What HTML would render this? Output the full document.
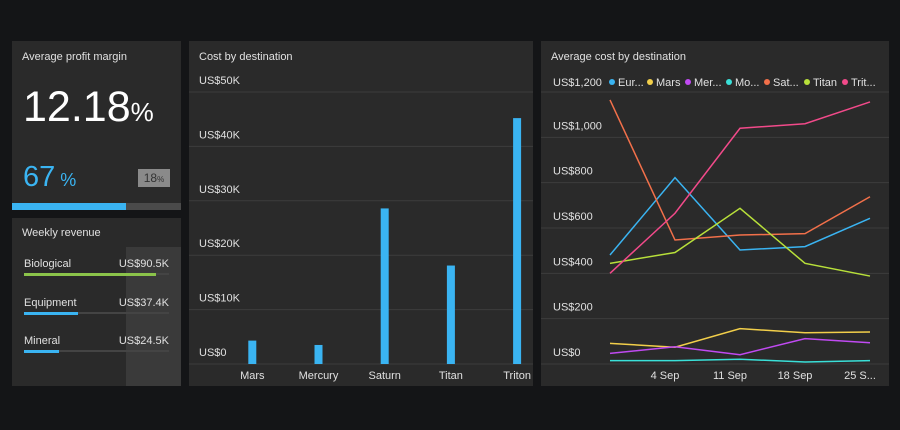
<!DOCTYPE html>
<html><head><meta charset="utf-8"><style>
body{margin:0;width:900px;height:430px;background:#141517;font-family:"Liberation Sans",sans-serif;color:#e8e8e8;position:relative;overflow:hidden}
.p{position:absolute;background:#2a2a2a}
.t{position:absolute;font-size:11px;color:#e0e0e0}
svg text{font-family:"Liberation Sans",sans-serif}
</style></head><body>
<div class="p" style="left:12px;top:41px;width:169px;height:169px">
 <div class="t" style="left:10px;top:10px">Average profit margin</div>
 <div style="position:absolute;left:11px;top:42px;font-size:43px;color:#fff">12.18<span style="font-size:26px">%</span></div>
 <div style="position:absolute;left:11px;top:120px;font-size:29px;color:#3ab4f2">67<span style="font-size:18px"> %</span></div>
 <div style="position:absolute;left:126px;top:128px;width:32px;height:18px;background:#8a8a8a;color:#333;font-size:12px;line-height:18px;text-align:center">18<span style="font-size:8px">%</span></div>
 <div style="position:absolute;left:0;top:162px;width:169px;height:7px;background:#4a4a4a"><div style="width:114px;height:7px;background:#3ab4f2"></div></div>
</div>
<div class="p" style="left:12px;top:218px;width:169px;height:168px">
 <div style="position:absolute;left:114px;top:29px;width:55px;height:139px;background:#3a3a3a"></div>
 <div class="t" style="left:10px;top:9px">Weekly revenue</div>
 <div class="t" style="left:12px;top:40px">Biological</div>
 <div class="t" style="right:12px;top:40px">US$90.5K</div>
 <div style="position:absolute;left:12px;top:55px;width:145px;height:2px;background:#444"><div style="width:132px;height:3px;background:#8bc34a"></div></div>
 <div class="t" style="left:12px;top:79px">Equipment</div>
 <div class="t" style="right:12px;top:79px">US$37.4K</div>
 <div style="position:absolute;left:12px;top:94px;width:145px;height:2px;background:#444"><div style="width:54px;height:3px;background:#3ab4f2"></div></div>
 <div class="t" style="left:12px;top:117px">Mineral</div>
 <div class="t" style="right:12px;top:117px">US$24.5K</div>
 <div style="position:absolute;left:12px;top:132px;width:145px;height:2px;background:#444"><div style="width:35px;height:3px;background:#3ab4f2"></div></div>
</div>
<div class="p" style="left:189px;top:41px;width:344px;height:345px"></div>
<div class="p" style="left:541px;top:41px;width:348px;height:345px"></div>
<svg id="s" width="900" height="430" style="position:absolute;left:0;top:0">
<text x="199" y="60" font-size="11" fill="#e0e0e0">Cost by destination</text>
<text x="551" y="60" font-size="11" fill="#e0e0e0">Average cost by destination</text>
</svg>
<script>
const barCats=["Mars","Mercury","Saturn","Titan","Triton"];
const barVals=[4.3,3.5,28.6,18.1,45.2];
const barTicks=[0,10,20,30,40,50];
const lineDates=["","4 Sep","11 Sep","18 Sep","25 S..."];
const lineNames=["Eur...","Mars","Mer...","Mo...","Sat...","Titan","Trit..."];
const europa=[481,822,503,518,643];
const mars=[91,74,156,138,141];
const mercury=[47,76,41,112,94];
const moon=[15,15,21,9,15];
const saturn=[1165,547,569,575,738];
const titan=[444,492,687,444,388];
const triton=[400,665,1040,1060,1156];
const lineTicks=[0,200,400,600,800,1000,1200];
const colors=["#3ab4f2","#f2cf4a","#c04af2","#3ae0d8","#f2704a","#b8e03a","#f24a8a"];
const S=document.getElementById('s'),NS="http://www.w3.org/2000/svg";
function mk(t,a,txt){const e=document.createElementNS(NS,t);for(const k in a)e.setAttribute(k,a[k]);if(txt!==undefined)e.textContent=txt;S.appendChild(e);return e;}
// bar chart
const by=v=>364-v*272/50, bx=i=>252.3+i*66.2;
barTicks.forEach(t=>{
 const l=mk('line',{x1:189,x2:533,y1:by(t),y2:by(t),stroke:'#3c3c3c','stroke-width':1});
 
 
 const tx=mk('text',{x:199,y:by(t)-8,'font-size':11,fill:'#e0e0e0'},t===0?'US$0':'US$'+t+'K');
 
 
});
barCats.forEach((c,i)=>{
 const r=mk('rect',{x:bx(i)-4,y:by(barVals[i]),width:8,height:364-by(barVals[i]),fill:'#3ab4f2'});
 
 
 const tx=mk('text',{x:bx(i),y:379,'font-size':11,fill:'#e0e0e0','text-anchor':'middle'},c);
 
 
});
// line chart
const ly=v=>364-v*272/1200, lx=i=>610+i*65;
lineTicks.forEach(t=>{
 const l=mk('line',{x1:541,x2:889,y1:ly(t),y2:ly(t),stroke:'#3c3c3c','stroke-width':1});
 
 
 if(t<1200){const tx=mk('text',{x:553,y:ly(t)-8,'font-size':11,fill:'#e0e0e0'},'US$'+t.toLocaleString('en-US'));
 
 }
});
const t12=mk('text',{x:553,y:86,'font-size':11,fill:'#e0e0e0'},'US$1,200');


let lx0=612;
lineNames.forEach((n,i)=>{
 const c=mk('circle',{cx:lx0,cy:82,r:3,fill:colors[i]});
 
 
 const tx=mk('text',{x:lx0+6,y:86,'font-size':11,fill:'#e0e0e0'},n);
 
 
 lx0+=[38,38,41,38,40,38,0][i];
});
lineDates.forEach((d,i)=>{if(!d)return;
 const tx=mk('text',{x:lx(i)-10,y:379,'font-size':11,fill:'#e0e0e0','text-anchor':'middle'},d);
 
 
});
[europa,mars,mercury,moon,saturn,titan,triton].forEach((s,k)=>{
 const p=mk('polyline',{points:s.map((v,i)=>lx(i)+','+ly(v)).join(' '),fill:'none',stroke:colors[k],'stroke-width':1.5});
 
 
});
</script>
</body></html>
